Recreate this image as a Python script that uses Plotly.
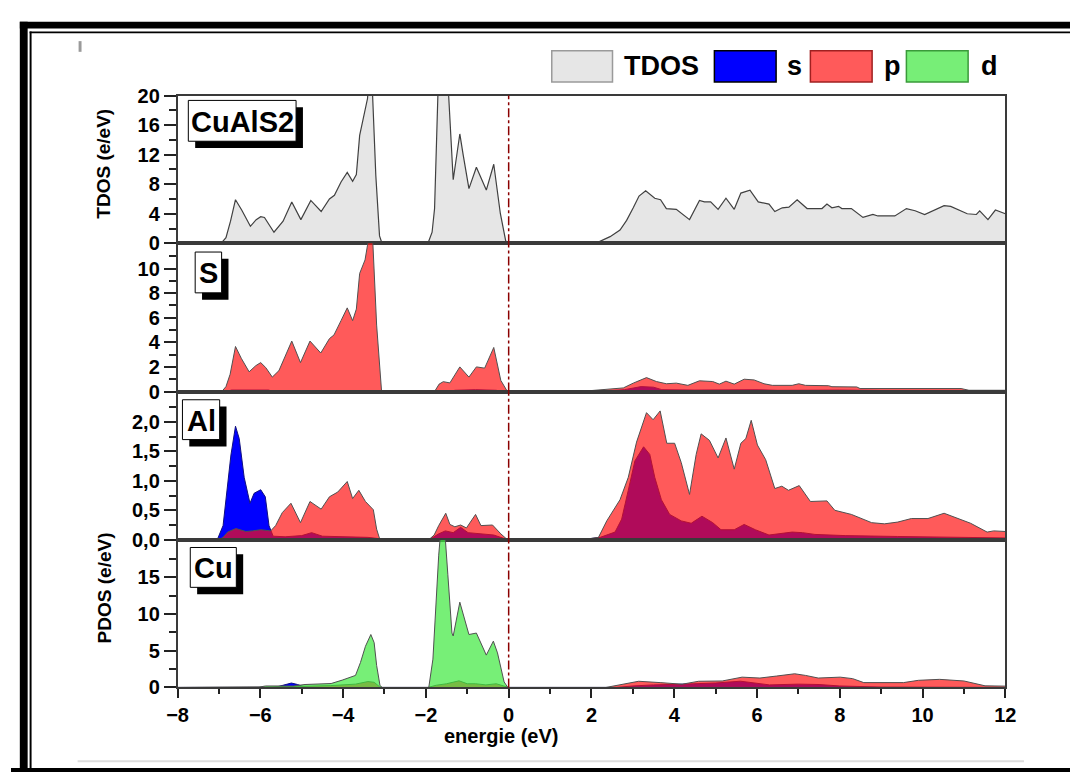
import plotly.graph_objects as go

# ---------------- data (energy eV, DOS) ----------------
TDOS = [(-8, 0), (-6.95, 0), (-6.83, 0.75), (-6.72, 3.0), (-6.60, 5.9), (-6.45, 4.5), (-6.24, 2.3),
        (-6.10, 3.2), (-5.99, 3.6), (-5.90, 3.5), (-5.67, 1.5), (-5.45, 3.0), (-5.24, 5.6), (-5.02, 3.2),
        (-4.78, 5.8), (-4.53, 4.3), (-4.33, 6.0), (-4.21, 6.5), (-4.05, 8.3), (-3.90, 9.6), (-3.77, 8.4),
        (-3.68, 9.3), (-3.60, 14.6), (-3.51, 17.0), (-3.41, 19.6), (-3.33, 26), (-3.28, 19.8), (-3.21, 9.2),
        (-3.12, 1.0), (-3.06, 0), (-1.95, 0), (-1.85, 1.5), (-1.79, 4.7), (-1.71, 20), (-1.60, 26),
        (-1.45, 20), (-1.34, 8.6), (-1.18, 14.8), (-1.10, 12), (-0.96, 7.4), (-0.78, 10.3), (-0.54, 7.2),
        (-0.36, 10.7), (-0.20, 4.0), (-0.07, 0.3), (0.0, 0), (2.10, 0), (2.45, 0.9), (2.69, 1.8),
        (2.85, 3.1), (3.01, 4.8), (3.15, 6.4), (3.31, 7.1), (3.53, 6.1), (3.67, 5.9), (3.81, 4.7),
        (4.05, 4.6), (4.37, 3.2), (4.61, 5.8), (4.73, 5.6), (4.88, 5.6), (5.06, 4.6), (5.25, 6.1),
        (5.45, 4.6), (5.61, 6.8), (5.83, 7.2), (6.03, 5.6), (6.29, 5.3), (6.43, 4.3), (6.61, 4.8),
        (6.77, 4.9), (6.97, 5.9), (7.21, 4.7), (7.57, 4.7), (7.69, 5.3), (7.81, 4.8), (7.97, 5.0),
        (8.05, 4.7), (8.28, 4.7), (8.56, 3.5), (8.80, 3.9), (8.92, 3.7), (9.33, 3.7), (9.61, 4.7),
        (9.82, 4.4), (10.05, 3.9), (10.52, 5.1), (10.68, 5.0), (11.08, 4.0), (11.30, 3.9), (11.38, 4.4),
        (11.58, 3.2), (11.76, 4.5), (12.0, 4.0)]

S_s = [(-8, 0), (-6.8, 0), (-6.7, 0.12), (-6.2, 0.15), (-5.8, 0.12), (-5.7, 0), (-1.4, 0), (-1.3, 0.1),
       (-0.8, 0.15), (-0.3, 0.1), (-0.2, 0), (2.2, 0), (2.5, 0.05), (2.8, 0.15), (3.2, 0.40), (3.5, 0.35),
       (3.7, 0.15), (4.5, 0.12), (6.0, 0.15), (6.5, 0.1), (8.0, 0.12), (9.0, 0.08), (11.0, 0.08), (12, 0.05)]

S_p = [(-8, 0), (-6.93, 0), (-6.83, 0.4), (-6.73, 1.4), (-6.60, 3.66), (-6.46, 2.7), (-6.27, 1.6),
       (-6.11, 2.1), (-5.99, 2.35), (-5.87, 1.95), (-5.71, 1.17), (-5.55, 1.7), (-5.24, 4.1), (-5.03, 2.35),
       (-4.80, 4.1), (-4.54, 3.13), (-4.33, 4.3), (-4.22, 4.6), (-4.05, 5.76), (-3.90, 6.8), (-3.77, 5.76),
       (-3.68, 6.7), (-3.60, 9.6), (-3.47, 10.7), (-3.41, 11.9), (-3.33, 14), (-3.28, 12), (-3.19, 5.4),
       (-3.07, 0), (-1.79, 0), (-1.68, 0.6), (-1.58, 0.8), (-1.42, 0.7), (-1.18, 2.0), (-0.96, 1.17),
       (-0.78, 2.0), (-0.58, 1.9), (-0.36, 3.58), (-0.19, 0.9), (-0.03, 0), (1.72, 0), (2.37, 0.16),
       (2.77, 0.29), (3.01, 0.68), (3.33, 1.13), (3.57, 0.81), (3.81, 0.63), (4.05, 0.68), (4.33, 0.5),
       (4.61, 0.87), (4.93, 0.81), (5.09, 0.6), (5.25, 0.84), (5.45, 0.6), (5.69, 1.0), (5.93, 0.94),
       (6.17, 0.63), (6.37, 0.5), (6.85, 0.5), (7.01, 0.63), (7.17, 0.5), (7.73, 0.47), (7.81, 0.39),
       (8.41, 0.37), (8.49, 0.24), (10.93, 0.24), (11.12, 0.1), (12, 0.1)]

Al_s = [(-8, 0), (-7.04, 0), (-6.90, 0.24), (-6.79, 0.9), (-6.71, 1.44), (-6.60, 1.93), (-6.51, 1.72),
        (-6.39, 1.06), (-6.25, 0.62), (-6.15, 0.79), (-5.99, 0.85), (-5.88, 0.73), (-5.79, 0.24),
        (-5.69, 0.06), (-5.4, 0.05), (-5.0, 0.07), (-4.76, 0.12), (-4.5, 0.06), (-4.0, 0.05), (-3.4, 0.04),
        (-3.15, 0.02), (-3.1, 0), (-1.95, 0), (-1.85, 0.03), (-1.69, 0.10), (-1.53, 0.15), (-1.34, 0.12),
        (-1.16, 0.21), (-0.98, 0.12), (-0.67, 0.10), (-0.36, 0.08), (-0.11, 0.02), (0, 0), (1.77, 0),
        (2.21, 0.04), (2.57, 0.13), (2.73, 0.35), (2.89, 0.84), (3.05, 1.34), (3.26, 1.58), (3.41, 1.45),
        (3.53, 1.06), (3.69, 0.68), (3.89, 0.43), (4.17, 0.32), (4.41, 0.28), (4.67, 0.40), (4.93, 0.29),
        (5.13, 0.17), (5.45, 0.17), (5.69, 0.26), (5.96, 0.17), (6.29, 0.08), (6.85, 0.13), (7.1, 0.12),
        (7.4, 0.09), (8.13, 0.07), (9.4, 0.055), (11.0, 0.04), (12, 0.03)]

Al_p = [(-8, 0), (-7.0, 0), (-6.90, 0.04), (-6.79, 0.13), (-6.59, 0.19), (-6.35, 0.14), (-6.19, 0.15),
        (-5.99, 0.17), (-5.75, 0.15), (-5.63, 0.24), (-5.47, 0.46), (-5.26, 0.62), (-5.03, 0.29),
        (-4.80, 0.65), (-4.53, 0.52), (-4.33, 0.73), (-4.13, 0.81), (-3.90, 0.99), (-3.77, 0.70),
        (-3.62, 0.84), (-3.46, 0.65), (-3.27, 0.51), (-3.19, 0.18), (-3.11, 0), (-1.93, 0), (-1.80, 0.08),
        (-1.69, 0.24), (-1.52, 0.45), (-1.42, 0.26), (-1.30, 0.22), (-1.16, 0.25), (-1.02, 0.20),
        (-0.80, 0.43), (-0.67, 0.24), (-0.39, 0.25), (-0.19, 0.10), (-0.03, 0), (1.77, 0), (2.17, 0.04),
        (2.37, 0.32), (2.69, 0.68), (2.89, 1.06), (3.09, 1.66), (3.33, 2.16), (3.49, 2.04), (3.66, 2.19),
        (3.82, 1.64), (4.01, 1.64), (4.17, 1.31), (4.37, 0.77), (4.53, 1.45), (4.65, 1.80), (4.85, 1.69),
        (5.06, 1.39), (5.25, 1.73), (5.45, 1.20), (5.61, 1.64), (5.73, 1.72), (5.86, 2.03), (6.01, 1.61),
        (6.21, 1.36), (6.43, 0.87), (6.60, 0.91), (6.76, 0.84), (7.02, 0.92), (7.29, 0.65), (7.69, 0.66),
        (7.88, 0.50), (8.28, 0.43), (8.77, 0.29), (9.08, 0.27), (9.40, 0.30), (9.73, 0.36), (10.13, 0.36),
        (10.52, 0.45), (10.84, 0.37), (11.16, 0.28), (11.56, 0.13), (11.72, 0.15), (12, 0.14)]

Cu_s = [(-8, 0), (-5.7, 0), (-5.55, 0.15), (-5.4, 0.35), (-5.25, 0.6), (-5.1, 0.4), (-4.95, 0.1), (-4.8, 0),
        (2.6, 0), (3.0, 0.2), (3.5, 0.35), (4.2, 0.45), (5.0, 0.6), (5.6, 0.85), (6.0, 0.6), (6.3, 0.35),
        (7.0, 0.45), (7.5, 0.4), (8.0, 0.2), (9.0, 0.05), (12, 0)]

Cu_p = [(-8, 0), (-6.6, 0), (-6.0, 0.05), (-5.0, 0.15), (-4.3, 0.25), (-3.7, 0.45), (-3.4, 0.8),
        (-3.25, 0.7), (-3.12, 0.1), (-3.05, 0), (-1.95, 0), (-1.75, 0.3), (-1.5, 0.5), (-1.2, 0.9),
        (-1.0, 0.5), (-0.8, 0.5), (-0.55, 0.35), (-0.3, 0.5), (-0.05, 0.05), (0, 0), (2.35, 0), (2.79, 0.5),
        (3.14, 0.84), (3.66, 0.66), (4.19, 0.44), (4.59, 0.84), (5.16, 0.88), (5.64, 1.4), (6.07, 1.28),
        (6.47, 1.55), (6.91, 1.86), (7.17, 1.64), (7.48, 1.28), (8.01, 1.4), (8.31, 1.2), (8.58, 0.66),
        (9.54, 0.66), (9.9, 0.97), (10.41, 1.1), (11.0, 0.88), (11.51, 0.22), (12, 0.18)]

Cu_d = [(-8, 0), (-6.8, 0), (-6.66, 0.08), (-6.03, 0.05), (-5.87, 0.2), (-5.5, 0.15), (-5.2, 0.2),
        (-4.92, 0.4), (-4.29, 0.53), (-4.02, 1.0), (-3.70, 1.64), (-3.58, 3.4), (-3.46, 5.6), (-3.33, 7.2),
        (-3.25, 6.1), (-3.19, 3.0), (-3.11, 0.3), (-3.06, 0), (-1.93, 0), (-1.83, 3.85), (-1.77, 9.6),
        (-1.69, 18), (-1.60, 24), (-1.53, 20.2), (-1.47, 15.4), (-1.37, 7.4), (-1.34, 7.0), (-1.18, 11.6),
        (-1.10, 10.0), (-0.96, 7.2), (-0.78, 7.4), (-0.54, 4.4), (-0.37, 6.3), (-0.27, 4.7), (-0.11, 0.75),
        (-0.02, 0), (12, 0)]

PANEL_LABELS = ["CuAlS2", "S", "Al", "Cu"]
LEGEND_LABELS = ["TDOS", "s", "p", "d"]
X_TICKS = [-8, -6, -4, -2, 0, 2, 4, 6, 8, 10, 12]
TDOS_TICKS = [0, 4, 8, 12, 16, 20]
S_TICKS = [0, 2, 4, 6, 8, 10]
AL_TICKS = [0, 0.5, 1.0, 1.5, 2.0]
AL_TICKTEXT = ["0,0", "0,5", "1,0", "1,5", "2,0"]
CU_TICKS = [0, 5, 10, 15]

# ---------------- geometry helpers ----------------
W, H = 1081, 783
def px(x):
    return x / W
def py(y):
    return 1 - y / H

FONT = "Liberation Sans, Arial, sans-serif"
C_TDOS = "#E6E6E6"
C_S = "#0000FF"
C_P = "rgba(255,16,16,0.69)"
C_D = "rgba(58,232,58,0.69)"

fig = go.Figure()

def add(points, ax, fillcolor, linecolor, lw=1.0):
    fig.add_trace(go.Scatter(
        x=[p[0] for p in points], y=[p[1] for p in points],
        mode="lines", fill="tozeroy", fillcolor=fillcolor,
        line=dict(color=linecolor, width=lw), xaxis="x" + ax, yaxis="y" + ax,
        showlegend=False, hoverinfo="skip"))

add(TDOS, "", C_TDOS, "#404040", 1.2)
add(S_s, "2", C_S, "#1010a0")
add(S_p, "2", C_P, "#505050")
add(Al_s, "3", C_S, "#101080")
add(Al_p, "3", C_P, "#505050")
add(Cu_s, "4", C_S, "#101080")
add(Cu_p, "4", C_P, "#505050")
add(Cu_d, "4", C_D, "#505050")

# panel domains (pixels)
panels = [(87, 239), (239, 391.5), (391.5, 544), (544, 696)]
xdom = [px(170), px(1015)]

tickfont = dict(family=FONT, size=20, color="black", weight="bold")
axcommon = dict(showline=True, mirror=True, linecolor="#3a3a3a", linewidth=1.5,
                showgrid=False, zeroline=False)

layout = dict(
    width=W, height=H, margin=dict(l=0, r=0, t=0, b=0),
    paper_bgcolor="white", plot_bgcolor="white", showlegend=False,
)
names = ["", "2", "3", "4"]
mtick = dict(ticks="outside", ticklen=7, tickcolor="#222", tickwidth=1.5)
yspecs = [
    dict(range=[0, 20], tickvals=TDOS_TICKS, minor=dict(mtick, tickvals=[2, 6, 10, 14, 18])),
    dict(range=[0, 12.05], tickvals=S_TICKS, minor=dict(mtick, tickvals=[1, 3, 5, 7, 9, 11])),
    dict(range=[0, 2.52], tickvals=AL_TICKS, ticktext=AL_TICKTEXT,
         minor=dict(mtick, tickvals=[0.25, 0.75, 1.25, 1.75, 2.25])),
    dict(range=[0, 20.1], tickvals=CU_TICKS, minor=dict(mtick, tickvals=[2.5, 7.5, 12.5, 17.5])),
]
for i, n in enumerate(names):
    top, bot = panels[i]
    ydom = [py(bot), py(top)]
    xa = dict(axcommon, domain=xdom, range=[-8, 12], anchor="y" + n)
    if i == 3:
        xa.update(tickvals=X_TICKS, ticks="outside", ticklen=9, tickwidth=1.5, tickcolor="#222",
                  tickfont=tickfont, showticklabels=True,
                  minor=dict(tickvals=[-7, -5, -3, -1, 1, 3, 5, 7, 9, 11], ticks="outside", ticklen=5,
                             tickcolor="#222", tickwidth=1.5))
    else:
        xa.update(showticklabels=False, ticks="")
    ya = dict(axcommon, domain=ydom, anchor="x" + n, ticks="outside", ticklen=12, tickwidth=1.5,
              tickcolor="#222", tickfont=tickfont, tickmode="array")
    ya.update(yspecs[i])
    layout["xaxis" + n] = xa
    layout["yaxis" + n] = ya

fig.update_layout(**layout)

shapes = []
annotations = []

# Fermi level dash-dot line across all panels
for i, n in enumerate(names):
    top, bot = panels[i]
    shapes.append(dict(type="line", xref="x" + n, yref="paper", x0=0, x1=0, y0=py(bot), y1=py(top),
                       line=dict(color="#8B0000", width=1.5, dash="dashdot"), layer="above"))

# Panel label boxes with shadows
boxes = [(181, 92, 291, 134), (188, 248, 215, 290), (175, 400, 213, 441), (183, 552, 230, 593)]
for (x0, y0, x1, y1) in boxes:
    shapes.append(dict(type="rect", xref="paper", yref="paper", x0=px(x0 + 7), x1=px(x1 + 7),
                       y0=py(y1 + 7), y1=py(y0 + 7), fillcolor="black", line=dict(width=0), layer="above"))
    shapes.append(dict(type="rect", xref="paper", yref="paper", x0=px(x0), x1=px(x1), y0=py(y1), y1=py(y0),
                       fillcolor="white", line=dict(color="black", width=1), layer="above"))
for (x0, y0, x1, y1), lab in zip(boxes, PANEL_LABELS):
    annotations.append(dict(text=lab, xref="paper", yref="paper", x=px((x0 + x1) / 2), y=py((y0 + y1) / 2 + 1),
                            xanchor="center", yanchor="middle", showarrow=False,
                            font=dict(family=FONT, size=29, color="black", weight="bold")))

# Legend (manual)
leg = [((552, 614), C_TDOS, "#9a9a9a", 624), ((718, 781), "#0000FF", "#000000", 790),
       ((816, 879), "#FF5A5A", "#A02020", 889), ((914, 977), "#77EE77", "#3a9a3a", 988)]
for ((x0, x1), fc, lc, tx), lab in zip(leg, LEGEND_LABELS):
    shapes.append(dict(type="rect", xref="paper", yref="paper", x0=px(x0), x1=px(x1), y0=py(73), y1=py(41),
                       fillcolor=fc, line=dict(color=lc, width=1.5)))
    annotations.append(dict(text=lab, xref="paper", yref="paper", x=px(tx), y=py(57), xanchor="left",
                            yanchor="middle", showarrow=False,
                            font=dict(family=FONT, size=27, color="black", weight="bold")))

# axis titles
annotations.append(dict(text="TDOS (e/eV)", xref="paper", yref="paper", x=px(95), y=py(157), textangle=-90,
                        xanchor="center", yanchor="middle", showarrow=False,
                        font=dict(family=FONT, size=19, color="black", weight="bold")))
annotations.append(dict(text="PDOS (e/eV)", xref="paper", yref="paper", x=px(95), y=py(594), textangle=-90,
                        xanchor="center", yanchor="middle", showarrow=False,
                        font=dict(family=FONT, size=19, color="black", weight="bold")))
annotations.append(dict(text="energie (eV)", xref="paper", yref="paper", x=px(500), y=py(746),
                        xanchor="center", yanchor="middle", showarrow=False,
                        font=dict(family=FONT, size=20, color="black", weight="bold")))

# outer frame decorations
def rect(x0, y0, x1, y1, color):
    shapes.append(dict(type="rect", xref="paper", yref="paper", x0=px(x0), x1=px(x1), y0=py(y1), y1=py(y0),
                       fillcolor=color, line=dict(width=0), layer="above"))
rect(9, 11, W, 18, "black")
rect(9, 11, 17, H, "black")
rect(19, 21, W, 23, "black")
rect(19, 21, 21, H, "black")
rect(68, 771, 1034, 773, "#dddddd")
rect(0, 779, W, H, "black")
rect(69, 31, 72, 42, "#9a9a9a")

fig.update_layout(shapes=shapes, annotations=annotations)
fig.write_html("out.html")
